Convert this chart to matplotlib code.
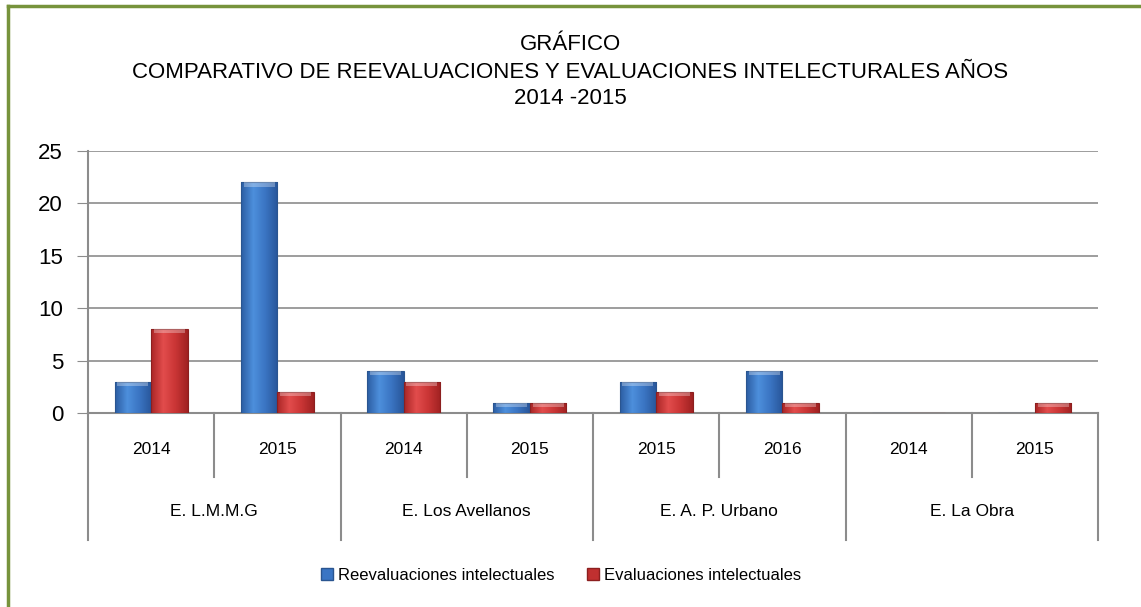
import matplotlib
matplotlib.use("Agg")
import matplotlib.pyplot as plt
import numpy as np
from matplotlib import font_manager
from matplotlib.colors import LinearSegmentedColormap
from matplotlib.patches import Patch

# data
groups = ["E. L.M.M.G", "E. Los Avellanos", "E. A. P. Urbano", "E. La Obra"]
years = ["2014", "2015", "2014", "2015", "2015", "2016", "2014", "2015"]
reevaluaciones = [3, 22, 4, 1, 3, 4, 0, 0]
evaluaciones = [8, 2, 3, 1, 2, 1, 0, 1]
series_names = ["Reevaluaciones intelectuales", "Evaluaciones intelectuales"]
title_lines = ["GRÁFICO",
               "COMPARATIVO DE REEVALUACIONES Y EVALUACIONES INTELECTURALES AÑOS",
               "2014 -2015"]

# narrow font if available (looks like Arial Narrow in the original)
names = {f.name for f in font_manager.fontManager.ttflist}
font = "Liberation Sans Narrow" if "Liberation Sans Narrow" in names else "Liberation Sans"
plt.rcParams["font.family"] = [font, "DejaVu Sans"]

blue_cmap = LinearSegmentedColormap.from_list("b", ["#2c5ea3", "#4d8fdc", "#3a74c2", "#28569a"])
red_cmap = LinearSegmentedColormap.from_list("r", ["#ab2626", "#e24c4c", "#c93535", "#a02222"])
grid_col = "#8c8c8c"

fig = plt.figure(figsize=(11.41, 6.07), dpi=100)
W, H = 1141, 607

def fx(px):
    return px / W

def fy(py):
    return 1 - py / H

ax = fig.add_axes([fx(88), fy(413), fx(1098) - fx(88), fy(151) - fy(413)])

x = np.arange(len(years))
width = 0.29
grad = np.linspace(0, 1, 64).reshape(1, -1)

def gradient_bars(xs, vals, cmap, edge):
    bars = ax.bar(xs, vals, width, color="none", edgecolor=edge, linewidth=0.8, zorder=3)
    for b in bars:
        if b.get_height() <= 0:
            continue
        im = ax.imshow(grad, cmap=cmap, aspect="auto", zorder=2.9,
                       extent=[b.get_x(), b.get_x() + b.get_width(), 0, b.get_height()])
        im.set_clip_path(b)
        # light top bevel
        ax.bar(b.get_x() + b.get_width() / 2, 0.4, b.get_width() * 0.85,
               bottom=b.get_height() - 0.4, color="white", alpha=0.3,
               linewidth=0, zorder=3.1)
    return bars

b1 = gradient_bars(x - width / 2, reevaluaciones, blue_cmap, "#2a5590")
b2 = gradient_bars(x + width / 2, evaluaciones, red_cmap, "#8c1f1f")

ax.set_xlim(-0.5, len(years) - 0.5)
ax.set_ylim(0, 25)
ax.set_yticks(range(0, 26, 5))
ax.tick_params(axis="y", length=8, color=grid_col, labelsize=16, pad=10)
ax.yaxis.grid(True, color=grid_col, linewidth=1.2, zorder=0)
ax.set_axisbelow(True)
ax.set_xticks([])
for s in ["top", "right"]:
    ax.spines[s].set_visible(False)
for s in ["left", "bottom"]:
    ax.spines[s].set_color(grid_col)
    ax.spines[s].set_linewidth(1.5)

# two-level category axis below the plot
trans = ax.get_xaxis_transform()
ax_h = 413 - 151
def ay(py):
    return (413 - py) / ax_h

for i, yr in enumerate(years):
    ax.text(i, ay(449), yr, transform=trans, ha="center", va="center", fontsize=12.5)
for i in range(len(years) + 1):
    bottom = ay(540) if i % 2 == 0 else ay(477)
    ax.plot([i - 0.5, i - 0.5], [0, bottom], transform=trans, color=grid_col,
            linewidth=1.5, clip_on=False)
for g, name in enumerate(groups):
    ax.text(2 * g + 0.5, ay(511), name, transform=trans, ha="center",
            va="center", fontsize=12.5)

fig.text(0.5, fy(45), title_lines[0], ha="center", va="center", fontsize=16)
fig.text(0.5, fy(72), title_lines[1], ha="center", va="center", fontsize=16)
fig.text(0.5, fy(99), title_lines[2], ha="center", va="center", fontsize=16)

# legend
handles = [Patch(facecolor="#3a75c4", edgecolor="#2a5590"),
           Patch(facecolor="#c03030", edgecolor="#8c1f1f")]
fig.legend(handles, series_names, loc="center", bbox_to_anchor=(fx(561), fy(575)),
           ncol=2, frameon=False, fontsize=12, handlelength=0.7, handleheight=0.7,
           handletextpad=0.3, columnspacing=2.0)

# green frame (only left and top edges visible)
fig.add_artist(plt.Line2D([fx(8), fx(8)], [0, fy(6)], color="#77933c", linewidth=2.5))
fig.add_artist(plt.Line2D([fx(8), 1], [fy(6), fy(6)], color="#77933c", linewidth=2.5))

fig.savefig("out.png", dpi=100)
